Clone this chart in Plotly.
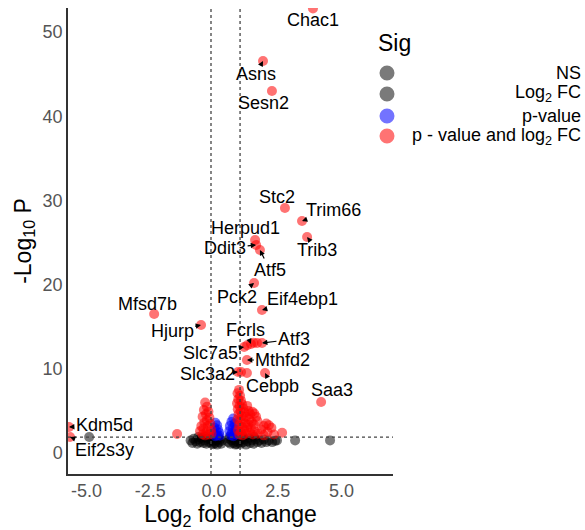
import plotly.graph_objects as go

# ---------------- data ----------------
label_genes = ["Chac1", "Asns", "Sesn2", "Stc2", "Trim66", "Trib3", "Herpud1", "Ddit3",
               "Atf5", "Pck2", "Eif4ebp1", "Mfsd7b", "Hjurp", "Fcrls", "Atf3", "Slc7a5",
               "Mthfd2", "Slc3a2", "Cebpb", "Saa3", "Kdm5d", "Eif2s3y"]
label_fc = [3.88, 1.92, 2.27, 2.78, 3.45, 3.65, 1.61, 1.65,
            1.80, 1.57, 1.88, -2.35, -0.51, 1.45, 1.88, 1.18,
            1.29, 0.94, 2.00, 4.20, -5.69, -5.65]
label_p = [52.8, 46.56, 42.99, 29.10, 27.55, 25.65, 25.30, 24.70,
           24.11, 20.19, 16.98, 16.51, 15.20, 12.95, 13.06, 12.59,
           11.05, 9.62, 9.50, 6.06, 3.09, 1.90]
# label offsets (pixels) from point to label centre
label_dx = [0, -7, -8, -8, 31, 10, -10, -31, 10, -17, 41, -7, -29, -6, 32, -34, 36, -31, 7, 11, 35, 34]
label_dy = [12, 13, 12, -11, -11, 13, -12, 3, 20, 14, -11, -10, 6, -14, -4, 6, 0, 2, 13, -12, -2, 13]

# significant by p-value and log2 FC (unlabelled)
red_fc = [0.98, 0.92, 1.02, 0.95, 1.06, 0.90, 1.00, 1.10, 0.93, 1.04, 1.15, 0.96, 1.08, 1.20,
          0.92, 1.02, 1.14, 1.26, 0.98, 1.10, 1.22, 0.94, 1.05, 1.18, 1.30, 0.99, 1.12, 1.25,
          1.30, 1.36, 1.42, 1.50, 1.58, 1.65, 1.38, 1.48, 1.56, 1.70, 1.35, 1.45, 1.60, 1.40,
          1.52, 1.72, 1.85, 1.95, 2.05, 2.15, 2.25, 2.10, 1.95, 2.35, 2.67,
          -0.35, -0.28, -0.40, -0.22, -0.32, -0.45, -0.18, -0.28, -0.38, -0.50, -0.15, -0.25,
          -0.42, -0.55, -0.12, -0.30, -0.20, -0.45, -0.10, -0.35, -1.45,
          1.69, 1.06, 1.29, 1.30, 1.55]
red_p = [7.5, 7.1, 6.8, 6.4, 6.2, 5.9, 5.6, 5.8, 5.2, 5.0, 5.3, 4.6, 4.4, 4.8,
         4.0, 3.8, 4.0, 4.3, 3.3, 3.1, 3.5, 2.7, 2.5, 2.8, 3.0, 2.2, 2.1, 2.3,
         5.6, 5.0, 4.6, 4.9, 4.7, 4.3, 4.0, 3.7, 3.4, 3.8, 3.4, 2.9, 2.6, 2.4,
         2.2, 2.3, 2.8, 3.2, 3.5, 3.3, 3.0, 2.5, 2.1, 2.2, 2.4,
         6.0, 5.5, 5.1, 4.9, 4.6, 4.3, 4.2, 3.9, 3.6, 3.2, 3.5, 3.2,
         2.9, 2.6, 2.8, 2.5, 2.2, 2.2, 2.3, 2.1, 2.26,
         13.06, 9.62, 9.50, 12.8, 13.1]

# significant by p-value only
blue_fc = [0.05, 0.12, 0.02, 0.15, 0.08, 0.20, 0.00, 0.12, 0.22, 0.05,
           0.75, 0.68, 0.80, 0.62, 0.74, 0.85, 0.60, 0.70, 0.82, 0.65, 0.76, 0.88]
blue_p = [3.6, 3.3, 3.0, 2.8, 2.6, 2.4, 2.3, 2.1, 2.05, 2.0,
          4.1, 3.7, 3.5, 3.2, 3.0, 2.8, 2.6, 2.4, 2.3, 2.1, 2.0, 2.2]

# not significant
ns_fc = [-0.92, -0.85, -0.80, -0.72, -0.66, -0.60, -0.55, -0.48, -0.42, -0.38, -0.30, -0.26,
         -0.20, -0.15, -0.10, -0.05, 0.00, 0.04, 0.08, 0.12, 0.16, 0.20, 0.24, 0.28, 0.30,
         -0.62, -0.35, -0.02, 0.18,
         0.56, 0.60, 0.64, 0.68, 0.72, 0.76, 0.80, 0.84, 0.88, 0.92, 0.96, 1.00, 1.05, 1.10,
         1.15, 1.20, 1.25, 1.30, 1.36, 1.42, 1.48, 1.55, 1.62, 1.70, 1.78, 1.86, 1.95, 2.05,
         2.15, 2.28, 2.40, 0.62, 0.90, 1.12, 1.58]
ns_p = [1.5, 1.2, 1.7, 1.4, 1.1, 1.6, 1.3, 1.8, 1.2, 1.5, 1.1, 1.7,
        1.3, 1.6, 1.1, 1.4, 1.8, 1.2, 1.5, 1.0, 1.7, 1.3, 1.6, 1.1, 1.45,
        1.9, 1.9, 1.05, 1.9,
        1.3, 1.7, 1.1, 1.5, 1.9, 1.2, 1.6, 1.0, 1.4, 1.8, 1.2, 1.5, 1.1, 1.7,
        1.3, 1.6, 1.0, 1.4, 1.8, 1.2, 1.5, 1.1, 1.6, 1.3, 1.5, 1.2, 1.6, 1.3,
        1.5, 1.3, 1.45, 1.95, 1.05, 1.95, 1.9]

# significant by log2 FC only
fc_fc = [-4.9, 2.47, 3.18, 4.55]
fc_p = [1.9, 1.5, 1.5, 1.5]

fc_cutoffs = [-0.12, 1.02]
p_cutoff = 1.9

legend_labels = ["NS", "Log<sub>2</sub> FC", "p-value", "p - value and log<sub>2</sub> FC"]
legend_colors = ["rgba(0,0,0,0.52)", "rgba(0,0,0,0.52)", "rgba(0,0,255,0.55)", "rgba(255,0,0,0.55)"]

# ---------------- figure ----------------
FONT = "Liberation Sans, Arial, sans-serif"
W, H = 585, 530
ML, MR, MT, MB = 68, 192, 8, 56
XR = [-5.73, 7.02]
YR = [-2.49, 52.85]

fig = go.Figure()
mk = dict(size=10, line=dict(width=0))
fig.add_trace(go.Scatter(x=ns_fc, y=ns_p, mode="markers", name="NS",
                         marker=dict(color=legend_colors[0], **mk)))
fig.add_trace(go.Scatter(x=fc_fc, y=fc_p, mode="markers", name="Log2 FC",
                         marker=dict(color=legend_colors[1], **mk)))
fig.add_trace(go.Scatter(x=blue_fc, y=blue_p, mode="markers", name="p-value",
                         marker=dict(color=legend_colors[2], **mk)))
fig.add_trace(go.Scatter(x=red_fc + label_fc, y=red_p + label_p, mode="markers",
                         name="p-value and log2 FC",
                         marker=dict(color=legend_colors[3], **mk)))

# threshold lines
for c in fc_cutoffs:
    fig.add_shape(type="line", xref="x", yref="paper", x0=c, x1=c, y0=0, y1=1,
                  line=dict(color="#444", width=1.3, dash="dot"), layer="above")
fig.add_shape(type="line", xref="paper", yref="y", x0=0, x1=1, y0=p_cutoff, y1=p_cutoff,
              line=dict(color="#444", width=1.3, dash="dot"), layer="above")

# gene labels
for g, x, y, dx, dy in zip(label_genes, label_fc, label_p, label_dx, label_dy):
    fig.add_annotation(x=x, y=y, text=g, showarrow=True, ax=dx, ay=dy,
                       arrowhead=2, arrowsize=0.9, arrowwidth=1.2, arrowcolor="black",
                       standoff=0, startstandoff=0,
                       font=dict(family=FONT, size=18, color="black"))

# manual legend (right-aligned labels like the reference)
pw = W - ML - MR
ph = H - MT - MB
def px2paper_x(px):
    return (px - ML) / pw
def px2paper_y(py):
    return (H - MB - py) / ph

fig.add_annotation(xref="paper", yref="paper", x=px2paper_x(376), y=px2paper_y(43),
                   text="Sig", showarrow=False, xanchor="left", yanchor="middle",
                   font=dict(family=FONT, size=23, color="black"))
legend_y = [73, 94, 116, 136]
for lab, col, ly in zip(legend_labels, legend_colors, legend_y):
    fig.add_shape(type="circle", xref="paper", yref="paper",
                  xsizemode="pixel", ysizemode="pixel",
                  xanchor=px2paper_x(387), yanchor=px2paper_y(ly),
                  x0=-7.5, x1=7.5, y0=-7.5, y1=7.5,
                  fillcolor=col, line=dict(width=0))
    fig.add_annotation(xref="paper", yref="paper", x=px2paper_x(583), y=px2paper_y(ly),
                       text=lab, showarrow=False, xanchor="right", yanchor="middle",
                       font=dict(family=FONT, size=18, color="black"))

fig.update_layout(
    width=W, height=H,
    margin=dict(l=ML, r=MR, t=MT, b=MB, pad=0),
    paper_bgcolor="white", plot_bgcolor="white",
    showlegend=False,
    font=dict(family=FONT),
    xaxis=dict(range=XR, tickvals=[-5, -2.5, 0, 2.5, 5],
               ticktext=["-5.0", "-2.5", "0.0", "2.5", "5.0"],
               showgrid=False, zeroline=False, showline=True, linecolor="#333", linewidth=1.5,
               ticks="", tickfont=dict(family=FONT, size=18, color="#555"),
               title=dict(text="Log<sub>2</sub> fold change", standoff=5,
                          font=dict(family=FONT, size=23, color="black"))),
    yaxis=dict(range=YR, tickvals=[0, 10, 20, 30, 40, 50],
               showgrid=False, zeroline=False, showline=True, linecolor="#333", linewidth=1.5,
               ticks="", tickfont=dict(family=FONT, size=18, color="#555"),
               title=dict(text="-Log<sub>10</sub> P", standoff=5,
                          font=dict(family=FONT, size=23, color="black"))),
)

fig.write_html("out.html")
